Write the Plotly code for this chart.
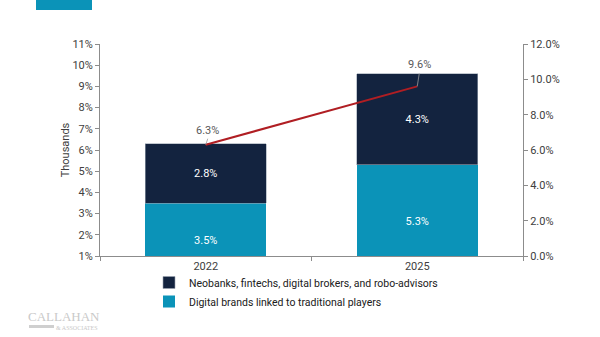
import plotly.graph_objects as go

categories = ["2022", "2025"]
digital_brands = [3.5, 5.3]
neobanks = [2.8, 4.3]
total_share = [6.3, 9.6]
series_names = ["Digital brands linked to traditional players",
                "Neobanks, fintechs, digital brokers, and robo-advisors"]

teal = "#0b93b8"
navy = "#13233f"
red = "#b01e23"
grey_txt = "#595959"
font_family = "Roboto, Arial, sans-serif"

fig = go.Figure()
fig.add_trace(go.Bar(
    x=categories, y=digital_brands, name=series_names[0],
    marker=dict(color=teal, line=dict(width=0)),
    text=[f"{v:.1f}%" for v in digital_brands], textposition="inside",
    insidetextanchor="middle", textfont=dict(color="white", size=11),
    width=0.57))
fig.add_trace(go.Bar(
    x=categories, y=neobanks, name=series_names[1],
    marker=dict(color=navy, line=dict(width=0.6, color="#9aa3b0")),
    text=[f"{v:.1f}%" for v in neobanks], textposition="inside",
    insidetextanchor="middle", textfont=dict(color="white", size=11),
    width=0.57))
fig.add_trace(go.Scatter(
    x=categories, y=total_share, yaxis="y2", mode="lines",
    line=dict(color=red, width=2), showlegend=False, hoverinfo="skip"))

offsets = [-6, -13]
for i, (v, ay) in enumerate(zip(total_share, offsets)):
    fig.add_annotation(
        x=i, y=v, yref="y2", text=f"{v:.1f}%", showarrow=True,
        arrowhead=0, arrowwidth=0.8, arrowcolor="#9a9a9a",
        ax=2, ay=ay, yanchor="bottom", standoff=0,
        font=dict(size=11, color=grey_txt, family=font_family))

# decorative header block and logo
fig.add_shape(type="rect", xref="paper", yref="paper",
              x0=(36 - 100) / 423, x1=(92 - 100) / 423,
              y0=(256 - 0) / 212, y1=(256 - 10) / 212,
              fillcolor="#0b93b8", line=dict(width=0), layer="above")
fig.add_annotation(xref="paper", yref="paper",
                   x=(27 - 100) / 423, y=(256 - 316) / 212,
                   text="CALLAHAN", showarrow=False, xanchor="left",
                   yanchor="middle", borderpad=0,
                   font=dict(family="Liberation Serif, serif", size=13, color="#c9c9c9"))
fig.add_shape(type="rect", xref="paper", yref="paper",
              x0=(29 - 100) / 423, x1=(54 - 100) / 423,
              y0=(256 - 325) / 212, y1=(256 - 328) / 212,
              fillcolor="#cfcfcf", line=dict(width=0))
fig.add_annotation(xref="paper", yref="paper",
                   x=(55 - 100) / 423, y=(256 - 328) / 212,
                   text="&amp; ASSOCIATES", showarrow=False, xanchor="left",
                   yanchor="middle", borderpad=0,
                   font=dict(family="Liberation Serif, serif", size=6, color="#c9c9c9"))

axis_color = "#8c8c8c"
fig.update_layout(
    width=600, height=337,
    margin=dict(l=100, r=77, t=44, b=81),
    paper_bgcolor="white", plot_bgcolor="white",
    barmode="stack",
    font=dict(family=font_family, size=11, color=grey_txt),
    xaxis=dict(type="category", categoryorder="array", categoryarray=categories,
               range=[-0.5, 1.5], autorange=False,
               showline=True, linecolor=axis_color,
               linewidth=1, ticks="outside", tickson="boundaries",
               ticklen=4, tickcolor=axis_color, showgrid=False,
               tickfont=dict(size=11, color="#404040")),
    yaxis=dict(range=[1, 11], dtick=1, ticksuffix="%", showline=True,
               linecolor=axis_color, ticks="outside", ticklen=4,
               tickcolor=axis_color, showgrid=False, zeroline=False,
               title=dict(text="Thousands", font=dict(size=11, color="#404040"),
                          standoff=0),
               tickfont=dict(size=11, color="#404040")),
    yaxis2=dict(range=[0, 12], dtick=2, tickformat=".1f", ticksuffix="%",
                overlaying="y", side="right", showline=True,
                linecolor=axis_color, ticks="outside", ticklen=4,
                tickcolor=axis_color, showgrid=False, zeroline=False,
                tickfont=dict(size=11, color="#404040")),
    legend=dict(orientation="v", x=(149 - 100) / 423, xanchor="left",
                y=(256 - 268) / 212, yanchor="top", traceorder="reversed",
                font=dict(size=10.5, color="#202020"), tracegroupgap=0,
                itemwidth=30, bgcolor="rgba(0,0,0,0)"),
    showlegend=True,
)

fig.write_html("out.html")
